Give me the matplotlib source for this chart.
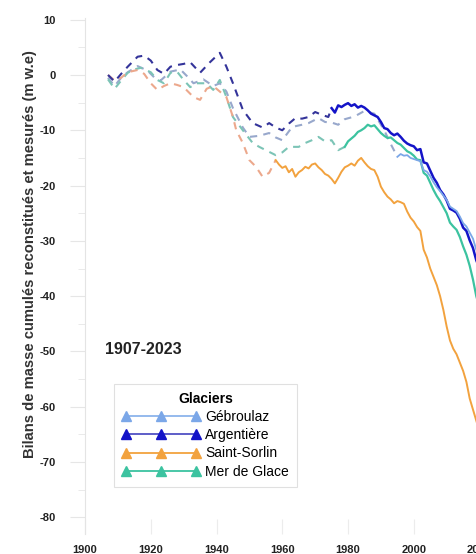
import numpy as np
from matplotlib import pyplot as plt
from matplotlib.lines import Line2D

plt.rcParams['font.family'] = ['Liberation Sans', 'DejaVu Sans']
plt.rcParams['axes.unicode_minus'] = False

# --- reconstructed (dashed) series ---
geb_rec_years = [1907, 1909, 1911, 1913, 1916, 1919, 1921, 1923, 1926, 1929, 1931, 1933, 1936, 1939,
                 1941, 1943, 1945, 1948, 1950, 1953, 1956, 1958, 1960, 1963, 1966, 1968, 1971, 1973,
                 1975, 1977, 1979, 1982, 1985, 1988, 1991, 1993, 1995]
geb_rec = [-0.5, -2, -0.5, 0.5, 1.6, 0.8, -0.4, -1, 0.6, 1, -0.2, -1.5, -0.8, -2,
           -1.5, -3, -6, -9.5, -11.2, -11, -10.5, -11.3, -11.8, -9.4, -9, -8.7, -7.8, -8.5,
           -8.6, -9, -8.0, -7.5, -6.5, -7.0, -10.0, -12.5, -14.8]

arg_rec_years = [1907, 1909, 1911, 1913, 1916, 1918, 1920, 1922, 1924, 1926, 1928, 1930, 1932, 1935,
                 1938, 1941, 1943, 1945, 1948, 1951, 1954, 1956, 1958, 1960, 1962, 1964, 1966, 1968,
                 1970, 1972, 1974, 1975]
arg_rec = [0, -1.2, 0.2, 1.5, 3.3, 3.5, 2.6, 0.9, 0.2, 1.5, 1.8, 2.0, 2.3, 0.4,
           2.3, 4.0, 1.5, -1.5, -6.3, -8.7, -9.5, -8.7, -9.5, -10, -8.8, -7.8, -7.9, -7.6,
           -6.7, -7.2, -7.6, -6.0]

ss_rec_years = [1907, 1909, 1911, 1913, 1916, 1918, 1920, 1922, 1924, 1926, 1928, 1930, 1933, 1935,
                1937, 1939, 1941, 1943, 1945, 1946, 1948, 1950, 1952, 1954, 1956, 1958]
ss_rec = [0, -1, -0.5, 0.5, 0.9, 0.2, -1.5, -2.7, -2.0, -1.5, -1.8, -2.2, -4.0, -4.5,
          -2.5, -2.0, -3.0, -4.0, -7.6, -10, -12.3, -15.4, -16.6, -18.4, -17.7, -15.4]

mdg_rec_years = [1907, 1909, 1911, 1913, 1915, 1917, 1920, 1922, 1924, 1926, 1928, 1930, 1932, 1934,
                 1937, 1939, 1941, 1943, 1945, 1948, 1951, 1953, 1955, 1958, 1960, 1962, 1965, 1967,
                 1969, 1971, 1973, 1975, 1977, 1979]
mdg_rec = [-0.8, -2.5, -1, 0.4, 1, 1.3, 0.5, -0.9, -1.5, 0.4, 0.6, -0.9, -2.2, -1.5,
           -1.5, -2.7, -0.9, -4, -7.6, -10, -12.3, -13, -13.6, -14.5, -14, -13, -13, -12.3,
           -11.8, -11.2, -12, -11.8, -13.6, -13.0]

# --- measured (solid) series ---
geb_meas_years = list(range(1995, 2021))
geb_meas = [-14.8, -14.3, -14.6, -14.5, -15.0, -15.2, -15.4, -15.6, -17.2, -17.5, -18.3, -19.4, -20.3,
            -21.0, -21.8, -22.6, -23.8, -24.2, -24.6, -25.6, -26.8, -27.4, -28.5, -29.6, -31.6, -33.0]

arg_meas_years = list(range(1975, 2021))
arg_meas = [-6.0, -6.8, -5.5, -5.8, -5.4, -5.1, -5.6, -5.3, -5.9, -5.6, -5.9, -6.4, -7.0, -7.3, -7.6,
            -8.5, -9.6, -9.8, -10.5, -10.9, -10.6, -11.2, -11.9, -12.4, -12.7, -12.9, -13.6, -13.4,
            -15.8, -16.0, -17.3, -18.6, -19.5, -20.8, -21.6, -22.7, -24.2, -24.5, -24.9, -26.0,
            -27.6, -28.2, -29.9, -31.3, -33.5, -35.0]

ss_meas_years = list(range(1958, 2021))
ss_meas = [-15.4, -16.2, -16.8, -16.5, -17.6, -17.0, -18.4, -17.6, -17.2, -16.6, -16.9, -16.2, -16.0,
           -16.7, -17.2, -17.9, -18.2, -18.8, -19.6, -18.6, -17.5, -16.7, -16.4, -16.0, -16.4, -15.5,
           -15.0, -15.8, -16.5, -17.0, -17.2, -18.4, -20.2, -21.2, -22.0, -22.5, -23.2, -22.8, -23.0,
           -23.3, -24.7, -25.8, -26.5, -27.5, -28.2, -31.6, -33.0, -35.0, -36.5, -38.0, -40.0, -42.5,
           -45.5, -48.0, -49.5, -50.5, -52.0, -53.5, -55.5, -58.5, -60.5, -62.5, -64.5]

mdg_meas_years = list(range(1979, 2021))
mdg_meas = [-13.0, -12.0, -11.5, -11.0, -10.3, -10.0, -9.6, -9.0, -9.3, -9.1, -9.8, -10.5, -11.0,
            -11.4, -11.3, -11.8, -12.3, -12.6, -13.2, -13.8, -14.1, -14.6, -15.3, -15.4, -17.7,
            -18.2, -19.5, -20.8, -21.9, -22.8, -23.9, -25.0, -26.7, -27.4, -28.0, -29.3, -31.0,
            -32.5, -34.5, -37.0, -40.0, -42.0]

names = ['Gébroulaz', 'Argentière', 'Saint-Sorlin', 'Mer de Glace']
col_solid = ['#7ba7e8', '#1414c8', '#f2a23e', '#3cc3a0']
col_dash = ['#98a8cc', '#34349a', '#eca88c', '#7cc4b6']
col_leg_line = ['#8cb4ec', '#5050c4', '#f2a23e', '#3cc3a0']

fig = plt.figure(figsize=(4.77, 5.54), dpi=100)
ax = fig.add_axes([85 / 477, 20 / 554, 411 / 477, 516 / 554])

rec = [(geb_rec_years, geb_rec), (arg_rec_years, arg_rec), (ss_rec_years, ss_rec), (mdg_rec_years, mdg_rec)]
meas = [(geb_meas_years, geb_meas), (arg_meas_years, arg_meas), (ss_meas_years, ss_meas),
        (mdg_meas_years, mdg_meas)]
lws = [1.3, 1.8, 1.4, 1.6]

for i in [0, 3, 2, 1]:
    ax.plot(rec[i][0], rec[i][1], color=col_dash[i], lw=1.5, dashes=(3.5, 3))
for i in [2, 3, 1, 0]:
    ax.plot(meas[i][0], meas[i][1], color=col_solid[i], lw=lws[i])

ax.set_xlim(1900, 2025)
ax.set_ylim(-83, 10.3)
ax.set_xticks([1900, 1920, 1940, 1960, 1980, 2000, 2020])
ax.set_yticks(np.arange(-80, 11, 10))
ax.set_yticks(np.arange(-75, 10, 10), minor=True)

for s in ['top', 'right', 'bottom']:
    ax.spines[s].set_visible(False)
ax.spines['left'].set_color('#e4e4e4')
ax.tick_params(axis='y', which='major', length=11, color='#e6e6e6', pad=10, labelsize=8)
ax.tick_params(axis='y', which='minor', length=5, color='#e6e6e6')
ax.tick_params(axis='x', direction='in', length=11, color='#ececec', pad=8, labelsize=8)
for lab in ax.get_xticklabels() + ax.get_yticklabels():
    lab.set_fontweight('bold')
    lab.set_color('#222222')

fig.text(30 / 477, 1 - 254 / 554, 'Bilans de masse cumulés reconstitués et mesurés (m w.e)',
         rotation=90, ha='center', va='center', fontsize=10.6, fontweight='bold', color='#333333')

ax.text(0.049, 0.357, '1907-2023', transform=ax.transAxes, fontsize=11.5, fontweight='bold',
        color='#222222', va='center')

handles = [Line2D([0], [0], color=col_leg_line[i], lw=1.3, marker='^', markersize=7,
                  markerfacecolor=col_solid[i], markeredgecolor=col_solid[i]) for i in range(4)]
leg = ax.legend(handles, names, title='Glaciers', loc='upper left', bbox_to_anchor=(0.053, 0.305),
                numpoints=3, handlelength=5.6, fontsize=10, labelspacing=0.3, handletextpad=0.4,
                fancybox=False, framealpha=1, edgecolor='#e0e0e0', borderpad=0.6)
leg.get_title().set_fontweight('bold')
leg.get_title().set_fontsize(10)
leg.get_frame().set_linewidth(0.8)

plt.savefig('out.png', dpi=100)
